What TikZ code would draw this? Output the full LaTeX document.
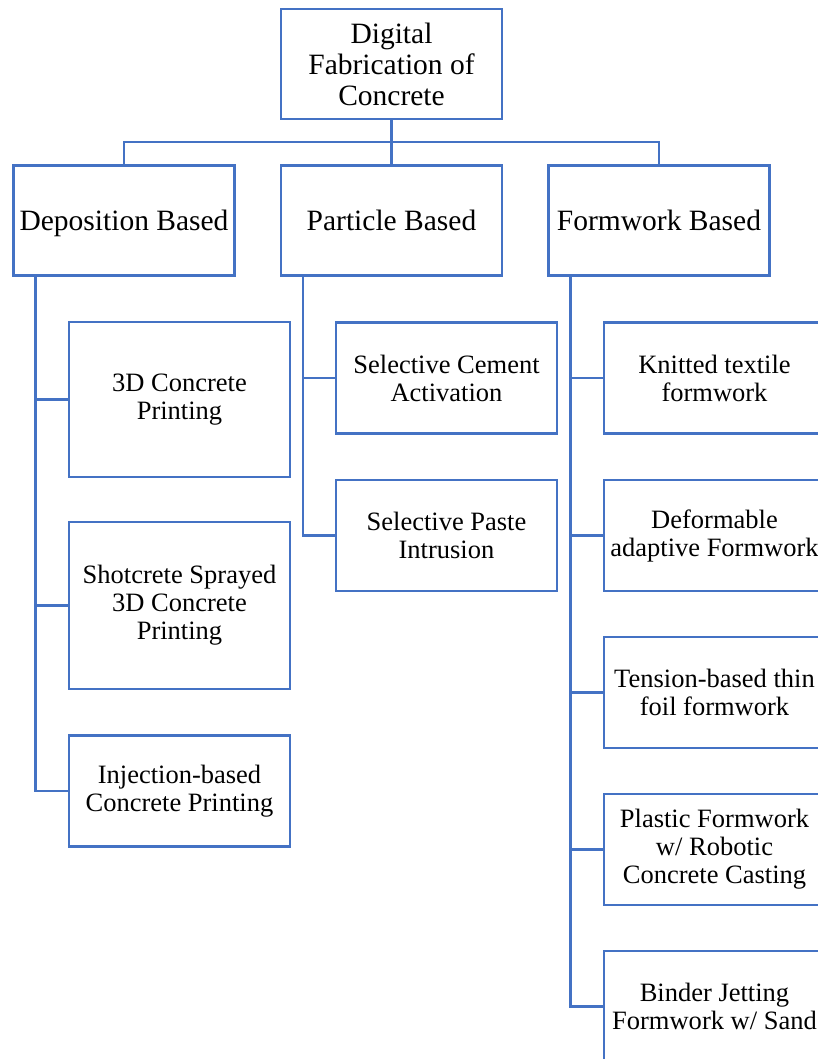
\documentclass[tikz,border=0pt]{standalone}
\usepackage{fontspec}
\setmainfont{Liberation Serif}
\definecolor{boxblue}{HTML}{4472C4}
\begin{document}
\begin{tikzpicture}[x=1pt,y=-1pt,
  box/.style={draw=boxblue,line width=2.5pt,inner sep=0pt,align=center,fill=white},
  big/.style={box,font=\fontsize{29.5}{31}\selectfont,minimum width=221pt,minimum height=110pt},
  small/.style={box,font=\fontsize{26.5}{28}\selectfont,minimum width=221pt,minimum height=111pt},
  link/.style={draw=boxblue,line width=2.5pt}]
\useasboundingbox (0,0) rectangle (818,1059);
\clip (0,0) rectangle (818,1059);
\node[big] (top) at (391.5,64) {Digital\\Fabrication of\\Concrete};
\node[big,text depth=0pt] (dep) at (124,220.5) {Deposition Based};
\node[big] (part) at (391.5,220.5) {Particle Based};
\node[big] (form) at (659,220.5) {Formwork Based};
\coordinate (bus) at (391.5,142);
\draw[link] (top.south) -- (part.north);
\draw[link] (dep.north) |- (bus) -| (form.north);
% deposition children
\node[small,minimum height=155pt] (c1) at (179.5,399.5) {3D Concrete\\Printing};
\node[small,minimum height=167pt] (c2) at (179.5,605.5) {Shotcrete Sprayed\\3D Concrete\\Printing};
\node[small] (c3) at (179.5,791) {Injection-based\\Concrete Printing};
\coordinate (dt) at ([xshift=23pt]dep.south west);
\draw[link] (dt) |- (c1.west);
\draw[link] (dt) |- (c2.west);
\draw[link] (dt) |- (c3.west);
% particle children
\node[small] (p1) at (446.5,378) {Selective Cement\\Activation};
\node[small] (p2) at (446.5,535.5) {Selective Paste\\Intrusion};
\coordinate (pt) at ([xshift=23pt]part.south west);
\draw[link] (pt) |- (p1.west);
\draw[link] (pt) |- (p2.west);
% formwork children
\node[small] (f1) at (714.5,378) {Knitted textile\\formwork};
\node[small] (f2) at (714.5,535.5) {Deformable\\adaptive Formwork};
\node[small] (f3) at (714.5,692.5) {Tension-based thin\\foil formwork};
\node[small] (f4) at (714.5,849.5) {Plastic Formwork\\w/ Robotic\\Concrete Casting};
\node[small] (f5) at (714.5,1006.5) {Binder Jetting\\Formwork w/ Sand};
\coordinate (ft) at ([xshift=23pt]form.south west);
\draw[link] (ft) |- (f1.west);
\draw[link] (ft) |- (f2.west);
\draw[link] (ft) |- (f3.west);
\draw[link] (ft) |- (f4.west);
\draw[link] (ft) |- (f5.west);
\end{tikzpicture}
\end{document}
